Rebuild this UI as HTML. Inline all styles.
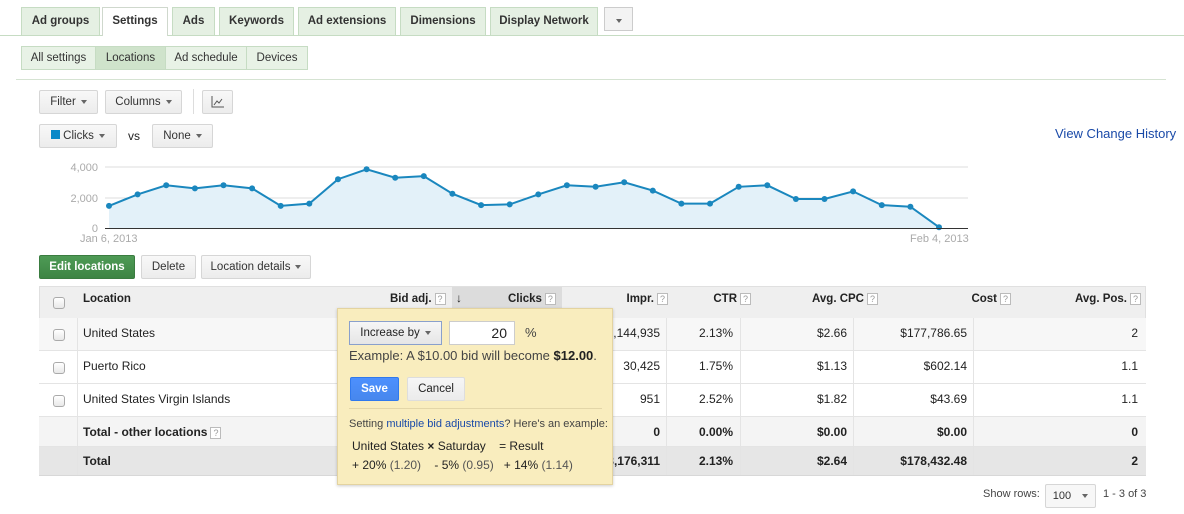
<!DOCTYPE html>
<html><head><style>
*{box-sizing:border-box;margin:0;padding:0}
body{width:1184px;height:514px;background:#fff;font-family:"Liberation Sans",Arial,sans-serif;font-size:12px;color:#222;position:relative;overflow:hidden}
.a{position:absolute}
.tab{position:absolute;top:7px;height:28px;background:#e5f0e3;border:1px solid #c6dcc3;border-bottom:none;font-weight:bold;font-size:11.5px;color:#333;text-align:center;line-height:27px}
.tab.on{background:#fff;height:29px;border-color:#cfd8cd}
.sub{position:absolute;top:46px;height:24px;background:#e8f2e6;border:1px solid #c6dcc3;font-size:11.5px;color:#333;text-align:center;line-height:22px}
.btn{position:absolute;height:24px;background:linear-gradient(#f8f8f8,#ececec);border:1px solid #d6d6d6;border-radius:2px;font-size:11.5px;color:#333;line-height:22px;text-align:center}
.tri{display:inline-block;width:0;height:0;border-left:3.5px solid transparent;border-right:3.5px solid transparent;border-top:4px solid #666;vertical-align:middle;margin-left:5px}
.row{position:absolute;left:39px;width:1107px;border-bottom:1px solid #e4e4e4}
.cb{position:absolute;left:14px;width:12px;height:12px;border:1px solid #aaa;border-radius:3px;background:linear-gradient(#fff,#e8e8e8)}
.c{position:absolute;font-size:12px;text-align:right}
.q{display:inline-block;width:11px;height:12px;border:1px solid #bbb;font-size:9px;line-height:10px;text-align:center;color:#999;font-weight:normal;vertical-align:middle;margin-left:3px;background:#fff}
.vl{position:absolute;width:1px;background:#e4e4e4;top:318px;height:157px}
</style></head><body>
<div class="a" style="left:0;top:35px;width:1184px;height:1px;background:#c6dcc3"></div>
<div class="tab" style="left:21px;width:79px">Ad groups</div>
<div class="tab on" style="left:102px;width:66px">Settings</div>
<div class="tab" style="left:172px;width:43px">Ads</div>
<div class="tab" style="left:219px;width:75px">Keywords</div>
<div class="tab" style="left:298px;width:98px">Ad extensions</div>
<div class="tab" style="left:400px;width:86px">Dimensions</div>
<div class="tab" style="left:490px;width:108px">Display Network</div>
<div class="tab" style="left:604px;width:29px;background:#f3f3f3;border-color:#ccc;border-bottom:1px solid #ccc;height:24px"><span class="tri" style="margin:0"></span></div>
<div class="sub" style="left:21px;width:75px">All settings</div>
<div class="sub" style="left:95px;width:71px;background:#cfe3cb">Locations</div>
<div class="sub" style="left:165px;width:82px">Ad schedule</div>
<div class="sub" style="left:246px;width:62px">Devices</div>
<div class="a" style="left:16px;top:79px;width:1150px;height:1px;background:#d5e3d2"></div>
<div class="btn" style="left:39px;top:90px;width:59px">Filter<span class="tri"></span></div>
<div class="btn" style="left:105px;top:90px;width:77px">Columns<span class="tri"></span></div>
<div class="a" style="left:193px;top:89px;width:1px;height:25px;background:#ddd"></div>
<div class="btn" style="left:202px;top:90px;width:31px"><svg width="14" height="12" style="vertical-align:middle"><path d="M1 0V11H13" stroke="#555" fill="none"/><path d="M3 9L6 5L8 7L11 3" stroke="#555" fill="none"/></svg></div>
<div class="btn" style="left:39px;top:124px;width:78px"><span style="display:inline-block;width:9px;height:9px;background:#0a88c8;margin-right:3px"></span>Clicks<span class="tri"></span></div>
<div class="a" style="left:128px;top:129px;font-size:12px">vs</div>
<div class="btn" style="left:152px;top:124px;width:61px">None<span class="tri"></span></div>
<div class="a" style="left:1055px;top:126px;font-size:13px;color:#1a4aa8">View Change History</div>
<svg class="a" style="left:0;top:150px" width="1184" height="100">
<line x1="105" y1="17" x2="968" y2="17" stroke="#ddd"/>
<line x1="105" y1="48" x2="968" y2="48" stroke="#ddd"/>
<g font-size="11" fill="#aaa" text-anchor="end" font-family="Liberation Sans"><text x="98" y="21">4,000</text><text x="98" y="52">2,000</text><text x="98" y="82">0</text></g>
<g font-size="11" fill="#aaa" font-family="Liberation Sans"><text x="80" y="92">Jan 6, 2013</text><text x="910" y="92">Feb 4, 2013</text></g>
<polygon id="ar" fill="#e3f1f9" points=""/>
<polyline id="ln" fill="none" stroke="#1a87be" stroke-width="2" points=""/>
<g id="dots" fill="#1a87be"></g>
<line x1="105" y1="78.5" x2="968" y2="78.5" stroke="#333"/>
</svg>
<script>
var v=[1450,2200,2800,2600,2800,2600,1450,1600,3200,3850,3300,3400,2250,1500,1550,2200,2800,2700,3000,2450,1600,1600,2700,2800,1900,1900,2400,1500,1400,50];
var p=[],d='';
for(var i=0;i<v.length;i++){var x=109+i*(939-109)/29,y=78-v[i]/4000*61;p.push(x.toFixed(1)+','+y.toFixed(1));d+='<circle cx="'+x.toFixed(1)+'" cy="'+y.toFixed(1)+'" r="3"/>';}
document.getElementById('ln').setAttribute('points',p.join(' '));
document.getElementById('ar').setAttribute('points','109,78 '+p.join(' ')+' 939,78');
document.getElementById('dots').innerHTML=d;
</script>
<div class="btn" style="left:39px;top:255px;width:96px;background:linear-gradient(#4e9a55,#3d8544);border-color:#3a7c40;color:#fff;font-weight:bold">Edit locations</div>
<div class="btn" style="left:141px;top:255px;width:55px">Delete</div>
<div class="btn" style="left:201px;top:255px;width:110px">Location details<span class="tri"></span></div>

<div class="row" style="top:286px;height:33px;background:#efefef;border:1px solid #e0e0e0"></div>
<div class="a" style="left:452px;top:287px;width:110px;height:31px;background:#dcdcdc"></div>
<div class="row" style="top:318px;height:33px;background:#f7f7f7"></div>
<div class="row" style="top:351px;height:33px"></div>
<div class="row" style="top:384px;height:33px"></div>
<div class="row" style="top:417px;height:30px;background:#f4f4f4"></div>
<div class="row" style="top:447px;height:29px;background:#e6e6e6;border-bottom:1px solid #d8d8d8"></div>
<div class="vl" style="left:77px"></div><div class="vl" style="left:666px"></div><div class="vl" style="left:740px"></div><div class="vl" style="left:853px"></div><div class="vl" style="left:973px"></div>
<div class="cb a" style="left:53px;top:297px"></div>
<div class="cb a" style="left:53px;top:329px"></div>
<div class="cb a" style="left:53px;top:362px"></div>
<div class="cb a" style="left:53px;top:395px"></div>
<div class="a" style="left:83px;top:293px;font-weight:bold;font-size:11.5px">Location</div>
<div class="a" style="left:83px;top:326px">United States</div>
<div class="a" style="left:83px;top:359px">Puerto Rico</div>
<div class="a" style="left:83px;top:392px">United States Virgin Islands</div>
<div class="a" style="left:83px;top:425px;font-weight:bold">Total - other locations<span class="q">?</span></div>
<div class="a" style="left:83px;top:454px;font-weight:bold">Total</div>
<div class="a" style="left:390px;top:293px;font-weight:bold;font-size:11.5px">Bid adj.<span class="q">?</span></div>
<div class="a" style="left:456px;top:291px;font-weight:bold">&#8595;</div>
<div class="a" style="left:508px;top:293px;font-weight:bold;font-size:11.5px">Clicks<span class="q">?</span></div>
<div class="c" style="right:516px;top:293px;font-weight:bold;font-size:11.5px">Impr.<span class="q">?</span></div>
<div class="c" style="right:433px;top:293px;font-weight:bold;font-size:11.5px">CTR<span class="q">?</span></div>
<div class="c" style="right:306px;top:293px;font-weight:bold;font-size:11.5px">Avg. CPC<span class="q">?</span></div>
<div class="c" style="right:173px;top:293px;font-weight:bold;font-size:11.5px">Cost<span class="q">?</span></div>
<div class="c" style="right:43px;top:293px;font-weight:bold;font-size:11.5px">Avg. Pos.<span class="q">?</span></div>
<!-- values -->
<div class="c" style="right:524px;top:326px">3,144,935</div><div class="c" style="right:451px;top:326px">2.13%</div><div class="c" style="right:337px;top:326px">$2.66</div><div class="c" style="right:217px;top:326px">$177,786.65</div><div class="c" style="right:46px;top:326px">2</div>
<div class="c" style="right:524px;top:359px">30,425</div><div class="c" style="right:451px;top:359px">1.75%</div><div class="c" style="right:337px;top:359px">$1.13</div><div class="c" style="right:217px;top:359px">$602.14</div><div class="c" style="right:46px;top:359px">1.1</div>
<div class="c" style="right:524px;top:392px">951</div><div class="c" style="right:451px;top:392px">2.52%</div><div class="c" style="right:337px;top:392px">$1.82</div><div class="c" style="right:217px;top:392px">$43.69</div><div class="c" style="right:46px;top:392px">1.1</div>
<div class="c" style="right:524px;top:425px;font-weight:bold">0</div><div class="c" style="right:451px;top:425px;font-weight:bold">0.00%</div><div class="c" style="right:337px;top:425px;font-weight:bold">$0.00</div><div class="c" style="right:217px;top:425px;font-weight:bold">$0.00</div><div class="c" style="right:46px;top:425px;font-weight:bold">0</div>
<div class="c" style="right:524px;top:454px;font-weight:bold">3,176,311</div><div class="c" style="right:451px;top:454px;font-weight:bold">2.13%</div><div class="c" style="right:337px;top:454px;font-weight:bold">$2.64</div><div class="c" style="right:217px;top:454px;font-weight:bold">$178,432.48</div><div class="c" style="right:46px;top:454px;font-weight:bold">2</div>
<!-- popup -->
<div class="a" style="left:337px;top:308px;width:276px;height:177px;background:#f9edbe;border:1px solid #e3d3a0;box-shadow:0 1px 3px rgba(0,0,0,.2)">
<div class="a" style="left:11px;top:12px;width:93px;height:24px;border:1px solid #8aa0cc;background:linear-gradient(#f6f6f6,#e6e6e6);font-size:11.5px;line-height:22px;text-align:center">Increase by<span class="tri"></span></div>
<div class="a" style="left:111px;top:12px;width:66px;height:24px;border:1px solid #ccc;background:#fff;text-align:right;padding-right:7px;line-height:22px;font-size:14px">20</div>
<div class="a" style="left:187px;top:16px;font-size:13px;color:#444">%</div>
<div class="a" style="left:11px;top:39px;font-size:13px;color:#444">Example: A $10.00 bid will become <b style="color:#222">$12.00</b>.</div>
<div class="a" style="left:12px;top:68px;width:49px;height:24px;background:linear-gradient(#4d90fe,#4787ed);border:1px solid #3079ed;border-radius:2px;color:#fff;font-weight:bold;font-size:11.5px;text-align:center;line-height:22px">Save</div>
<div class="a" style="left:69px;top:68px;width:58px;height:24px;background:linear-gradient(#f6f6f6,#ebebeb);border:1px solid #ddd;border-radius:2px;font-size:11.5px;text-align:center;line-height:22px">Cancel</div>
<div class="a" style="left:11px;top:99px;width:253px;height:1px;background:#e3d6a8"></div>
<div class="a" style="left:11px;top:109px;font-size:11px;color:#444">Setting <span style="color:#1a4aa8">multiple bid adjustments</span>? Here's an example:</div>
<div class="a" style="left:14px;top:130px;font-size:12px">United States <b>×</b> Saturday &nbsp;&nbsp; = Result</div>
<div class="a" style="left:14px;top:149px;font-size:12px">+ 20% <span style="color:#555">(1.20)</span> &nbsp;&nbsp; - 5% <span style="color:#555">(0.95)</span> &nbsp;&nbsp;+ 14% <span style="color:#555">(1.14)</span></div>
</div>
<div class="a" style="left:983px;top:488px;font-size:11px;color:#444">Show rows:</div>
<div class="btn" style="left:1045px;top:484px;width:51px;font-size:11px;background:#f7f7f7">100 <span class="tri" style="margin-left:8px"></span></div>
<div class="a" style="left:1103px;top:488px;font-size:11px;color:#444">1 - 3 of 3</div>
</body></html>
